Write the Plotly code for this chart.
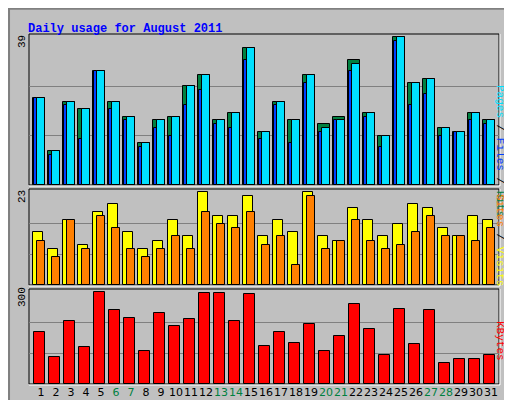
import plotly.graph_objects as go

days = list(range(1, 32))
hits  = [23,9,22,20,30,22,18,11,17,18,26,29,17,19,36,14,22,17,29,16,18,33,19,13,39,27,28,15,14,19,17]
files = [23,9,22,20,30,22,18,11,17,18,26,29,17,19,36,14,22,17,29,15,17,32,19,13,39,27,28,15,14,19,17]
pages = [23,8,21,12,30,20,17,10,15,13,21,25,16,15,33,12,21,11,27,14,17,30,18,10,38,21,24,13,14,17,16]
visits = [13,9,16,10,18,20,13,9,11,16,12,23,17,17,22,12,16,13,23,12,11,19,16,12,15,20,19,14,12,17,16]
sites  = [11,7,16,9,17,14,9,7,9,12,9,18,15,14,18,10,12,5,22,9,11,16,11,9,10,13,17,12,12,11,14]
kbytes = [168,89,207,122,300,240,214,106,233,188,211,296,296,207,292,125,168,135,197,109,158,260,178,96,243,132,240,70,80,80,93]
weekend = {6,7,13,14,20,21,27,28}

W, H = 512, 400
def fx(px): return px / W
def fy(py): return 1 - py / H

fig = go.Figure()
def bars(y, color, off, wid, xa, ya):
    fig.add_trace(go.Bar(x=days, y=y, offset=off, width=wid, marker_color=color,
                         marker_line_color="black", marker_line_width=1,
                         xaxis=xa, yaxis=ya, showlegend=False, hoverinfo="skip"))

bars(hits, "#008040", -0.53, 0.8, "x", "y")
bars(pages, "#0040FF", -0.47, 0.25, "x", "y")
bars(files, "#00E0FF", -0.27, 0.54, "x", "y")
bars(visits, "#FFFF00", -0.53, 0.66, "x2", "y2")
bars(sites, "#FF8000", -0.27, 0.54, "x2", "y2")
bars(kbytes, "#FF0000", -0.47, 0.73, "x3", "y3")

xr = [0.2, 31.53]
panels = [(26, 177, 39, 151/148, [13, 26]),
          (181, 277, 23, 96/93, [23/3, 46/3]),
          (281, 376, 300, 95/92, [100, 200])]
ticktext = [f"<span style='color:#008040'>{d}</span>" if d in weekend else str(d) for d in days]
mono = "Liberation Mono, monospace"
for i, (t, b, mx, f, grid) in enumerate(panels):
    s = "" if i == 0 else str(i + 1)
    fig.update_layout(**{
        "xaxis" + s: dict(domain=[fx(21), fx(491)], range=xr, anchor="y" + s,
                          showgrid=False, zeroline=False, fixedrange=True,
                          tickmode="array", tickvals=days if i == 2 else [],
                          ticktext=ticktext if i == 2 else None, ticks="", tickangle=0,
                          showticklabels=(i == 2),
                          tickfont=dict(family="DejaVu Sans, sans-serif", size=11, color="black")),
        "yaxis" + s: dict(domain=[fy(b), fy(t)], range=[0, mx * f], anchor="x" + s,
                          tickmode="array", tickvals=grid, showticklabels=False,
                          gridcolor="#808080", gridwidth=1, zeroline=False, ticks=""),
    })
    fig.add_shape(type="rect", xref="paper", yref="paper", x0=fx(21), x1=fx(491),
                  y0=fy(b), y1=fy(t), line=dict(color="black", width=1), layer="below")
    fig.add_shape(type="line", xref="paper", yref="paper", x0=fx(21), x1=fx(492),
                  y0=fy(b + 1), y1=fy(b + 1), line=dict(color="white", width=1))
    fig.add_shape(type="line", xref="paper", yref="paper", x0=fx(492), x1=fx(492),
                  y0=fy(b + 1), y1=fy(t), line=dict(color="white", width=1))
    fig.add_annotation(x=fx(14), y=fy(t + 8), xref="paper", yref="paper", text=str(mx),
                       textangle=-90, showarrow=False, xanchor="center", yanchor="middle",
                       font=dict(family=mono, size=11, color="black"))

right = [
    (75, "<span style='color:#00E0FF'>Pages</span> / <span style='color:#0040FF'>Files</span> / <span style='color:#008040'>Hits</span>"),
    (232, "<span style='color:#FF8000'>Sites</span> / <span style='color:#FFFF00'>Visits</span>"),
    (355, "<span style='color:#FF0000'>KBytes</span>"),
]
for yy, txt in right:
    fig.add_annotation(x=fx(500), y=fy(yy), xref="paper", yref="paper", text=txt,
                       textangle=90, showarrow=False, font=dict(family=mono, size=11, color="black"))
fig.add_annotation(x=fx(18), y=fy(12), xref="paper", yref="paper", xanchor="left",
                   text="<b>Daily usage for August 2011</b>", showarrow=False,
                   font=dict(family=mono, size=12, color="#0000FF"))
fig.add_shape(type="rect", xref="paper", yref="paper", x0=0.002, x1=0.998, y0=0.002, y1=0.998,
              line=dict(color="#808080", width=2))

fig.update_layout(width=W, height=H, margin=dict(l=0, r=0, t=0, b=0),
                  paper_bgcolor="#C0C0C0", plot_bgcolor="#C0C0C0",
                  barmode="overlay", bargap=0)
fig.write_html("out.html")
